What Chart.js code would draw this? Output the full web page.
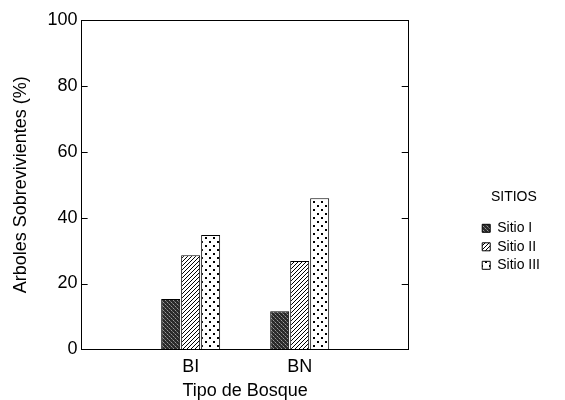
<!DOCTYPE html>
<html>
<head>
<meta charset="utf-8">
<script src="https://cdn.jsdelivr.net/npm/chart.js@4.4.1/dist/chart.umd.min.js"></script>
<style>
  html, body { margin: 0; padding: 0; background: #fff; }
  #wrap { width: 565px; height: 400px; }
</style>
</head>
<body>
<div id="wrap"><canvas id="c" width="565" height="400"></canvas></div>
<script>
const categories = ['', 'BI', 'BN', ''];
const siteNames = ['Sitio I', 'Sitio II', 'Sitio III'];
const sitio1 = [null, 15.3, 11.6, null];
const sitio2 = [null, 28.6, 26.8, null];
const sitio3 = [null, 34.7, 45.9, null];
const yTicks = [0, 20, 40, 60, 80, 100];

// fill textures, like the scanned print
function makePattern(size, draw) {
  const cv = document.createElement('canvas');
  cv.width = size;
  cv.height = size;
  const g = cv.getContext('2d');
  g.fillStyle = '#fff';
  g.fillRect(0, 0, size, size);
  draw(g);
  return g.createPattern(cv, 'repeat');
}

const darkFill = makePattern(4, g => {
  g.fillStyle = '#2a2a2a';
  g.fillRect(0, 0, 4, 4);
  g.fillStyle = '#9a9a9a';
  g.fillRect(1, 0, 1, 1);
  g.fillRect(3, 2, 1, 1);
  g.fillStyle = '#666';
  g.fillRect(0, 3, 1, 1);
  g.fillRect(2, 1, 1, 1);
});

const hatchFill = makePattern(4, g => {
  g.fillStyle = '#000';
  for (let i = 0; i < 4; i++) {
    g.fillRect(3 - i, i, 1, 1);
  }
});

const dotFill = makePattern(8, g => {
  g.fillStyle = '#000';
  g.fillRect(1, 1, 2, 2);
  g.fillRect(5, 5, 2, 2);
});

const frameTicks = {
  id: 'frameTicks',
  afterDraw(chart) {
    const { ctx, chartArea: a, scales } = chart;
    ctx.save();
    ctx.strokeStyle = '#000';
    ctx.lineWidth = 1;
    ctx.beginPath();
    ctx.moveTo(a.left, a.top + 0.5);
    ctx.lineTo(a.right, a.top + 0.5);
    yTicks.slice(1, -1).forEach(v => {
      const y = Math.round(scales.y.getPixelForValue(v)) + 0.5;
      ctx.moveTo(a.left, y);
      ctx.lineTo(a.left + 6, y);
      ctx.moveTo(a.right - 7, y);
      ctx.lineTo(a.right, y);
    });
    ctx.stroke();
    ctx.restore();
  }
};

const font = 'Liberation Sans, Arial, Helvetica, sans-serif';

new Chart(document.getElementById('c'), {
  type: 'bar',
  data: {
    labels: categories,
    datasets: [
      { label: siteNames[0], data: sitio1, backgroundColor: darkFill },
      { label: siteNames[1], data: sitio2, backgroundColor: hatchFill },
      { label: siteNames[2], data: sitio3, backgroundColor: dotFill }
    ].map(d => Object.assign(d, { borderColor: '#000', borderWidth: 1, categoryPercentage: 0.55, barPercentage: 0.95 }))
  },
  options: {
    responsive: false,
    animation: false,
    layout: { padding: { left: 10, right: 15, top: 20, bottom: 0 } },
    scales: {
      x: {
        offset: false,
        grid: { display: false, drawTicks: false },
        border: { display: true, color: '#000' },
        ticks: { color: '#000', font: { family: font, size: 18 }, padding: 7 },
        title: { display: true, text: 'Tipo de Bosque', color: '#000', font: { family: font, size: 18, lineHeight: 1 }, padding: { top: -3, bottom: 0 } }
      },
      y: {
        min: 0,
        max: 100,
        afterBuildTicks: s => { s.ticks = yTicks.map(v => ({ value: v })); },
        grid: { display: true, drawOnChartArea: false, drawTicks: false },
        border: { display: true, color: '#000' },
        ticks: { color: '#000', font: { family: font, size: 18 }, padding: 4 },
        title: { display: true, text: 'Arboles Sobrevivientes (%)', color: '#000', font: { family: font, size: 18 }, padding: { top: 0, bottom: 12 } }
      },
      y2: {
        position: 'right',
        min: 0,
        max: 100,
        grid: { display: false, drawTicks: false },
        border: { display: true, color: '#000' },
        ticks: { display: false },
        afterFit: s => { s.width = 69; }
      }
    },
    plugins: {
      legend: {
        position: 'right',
        align: 'start',
        title: { display: true, text: 'SITIOS', color: '#000', font: { family: font, size: 14 }, padding: { top: 170, bottom: 10 } },
        labels: { color: '#000', boxWidth: 8, boxHeight: 8, padding: 4.5, font: { family: font, size: 14 } }
      },
      tooltip: { enabled: false }
    }
  },
  plugins: [frameTicks]
});
</script>
</body>
</html>
